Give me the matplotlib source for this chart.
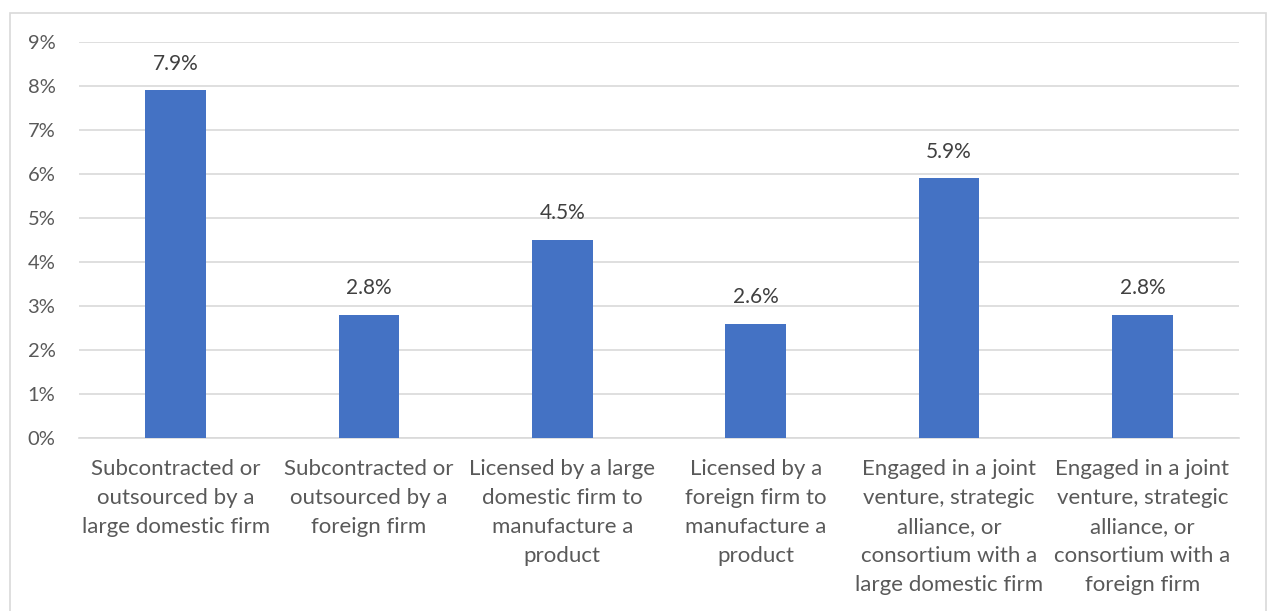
import matplotlib.pyplot as plt
from matplotlib.patches import Rectangle
from matplotlib.ticker import FuncFormatter

# data
categories = ['Subcontracted or\noutsourced by a\nlarge domestic firm',
              'Subcontracted or\noutsourced by a\nforeign firm',
              'Licensed by a large\ndomestic firm to\nmanufacture a\nproduct',
              'Licensed by a\nforeign firm to\nmanufacture a\nproduct',
              'Engaged in a joint\nventure, strategic\nalliance, or\nconsortium with a\nlarge domestic firm',
              'Engaged in a joint\nventure, strategic\nalliance, or\nconsortium with a\nforeign firm']
values = [7.9, 2.8, 4.5, 2.6, 5.9, 2.8]

plt.rcParams['font.family'] = ['Lato', 'DejaVu Sans']
txt = '#595959'

fig = plt.figure(figsize=(12.68, 6.11), dpi=100)
ax = fig.add_axes([79/1268, 173/611, 1160/1268, 396/611])

x = range(len(values))
bars = ax.bar(x, values, width=0.315, color='#4472C4', zorder=3)
for b, v in zip(bars, values):
    ax.text(b.get_x() + b.get_width()/2, v + 0.38, f'{v:.1f}%',
            ha='center', va='bottom', fontsize=15, color='#404040')

ax.set_xlim(-0.5, len(values) - 0.5)
ax.set_ylim(0, 9)
ax.set_yticks(range(10))
ax.yaxis.set_major_formatter(FuncFormatter(lambda v, p: f'{v:.0f}%'))
ax.grid(axis='y', color='#D9D9D9', linewidth=1.2, zorder=0)
ax.set_xticks(list(x))
ax.set_xticklabels(categories, fontsize=16, color=txt, linespacing=1.56, va='top')
ax.tick_params(axis='both', length=0, colors=txt)
ax.tick_params(axis='x', pad=15)
ax.tick_params(axis='y', pad=37, labelsize=14.5)
for lab in ax.get_yticklabels():
    lab.set_horizontalalignment('left')
for s in ['top', 'right', 'left']:
    ax.spines[s].set_visible(False)
ax.spines['bottom'].set_color('#D9D9D9')
ax.spines['bottom'].set_linewidth(1.2)

# chart area border
fig.patches.append(Rectangle((10/1268, -0.05), 1256/1268, 1.05 - 13/611,
                             transform=fig.transFigure, fill=False,
                             edgecolor='#D9D9D9', linewidth=1.2))

fig.savefig('out.png', dpi=100)
